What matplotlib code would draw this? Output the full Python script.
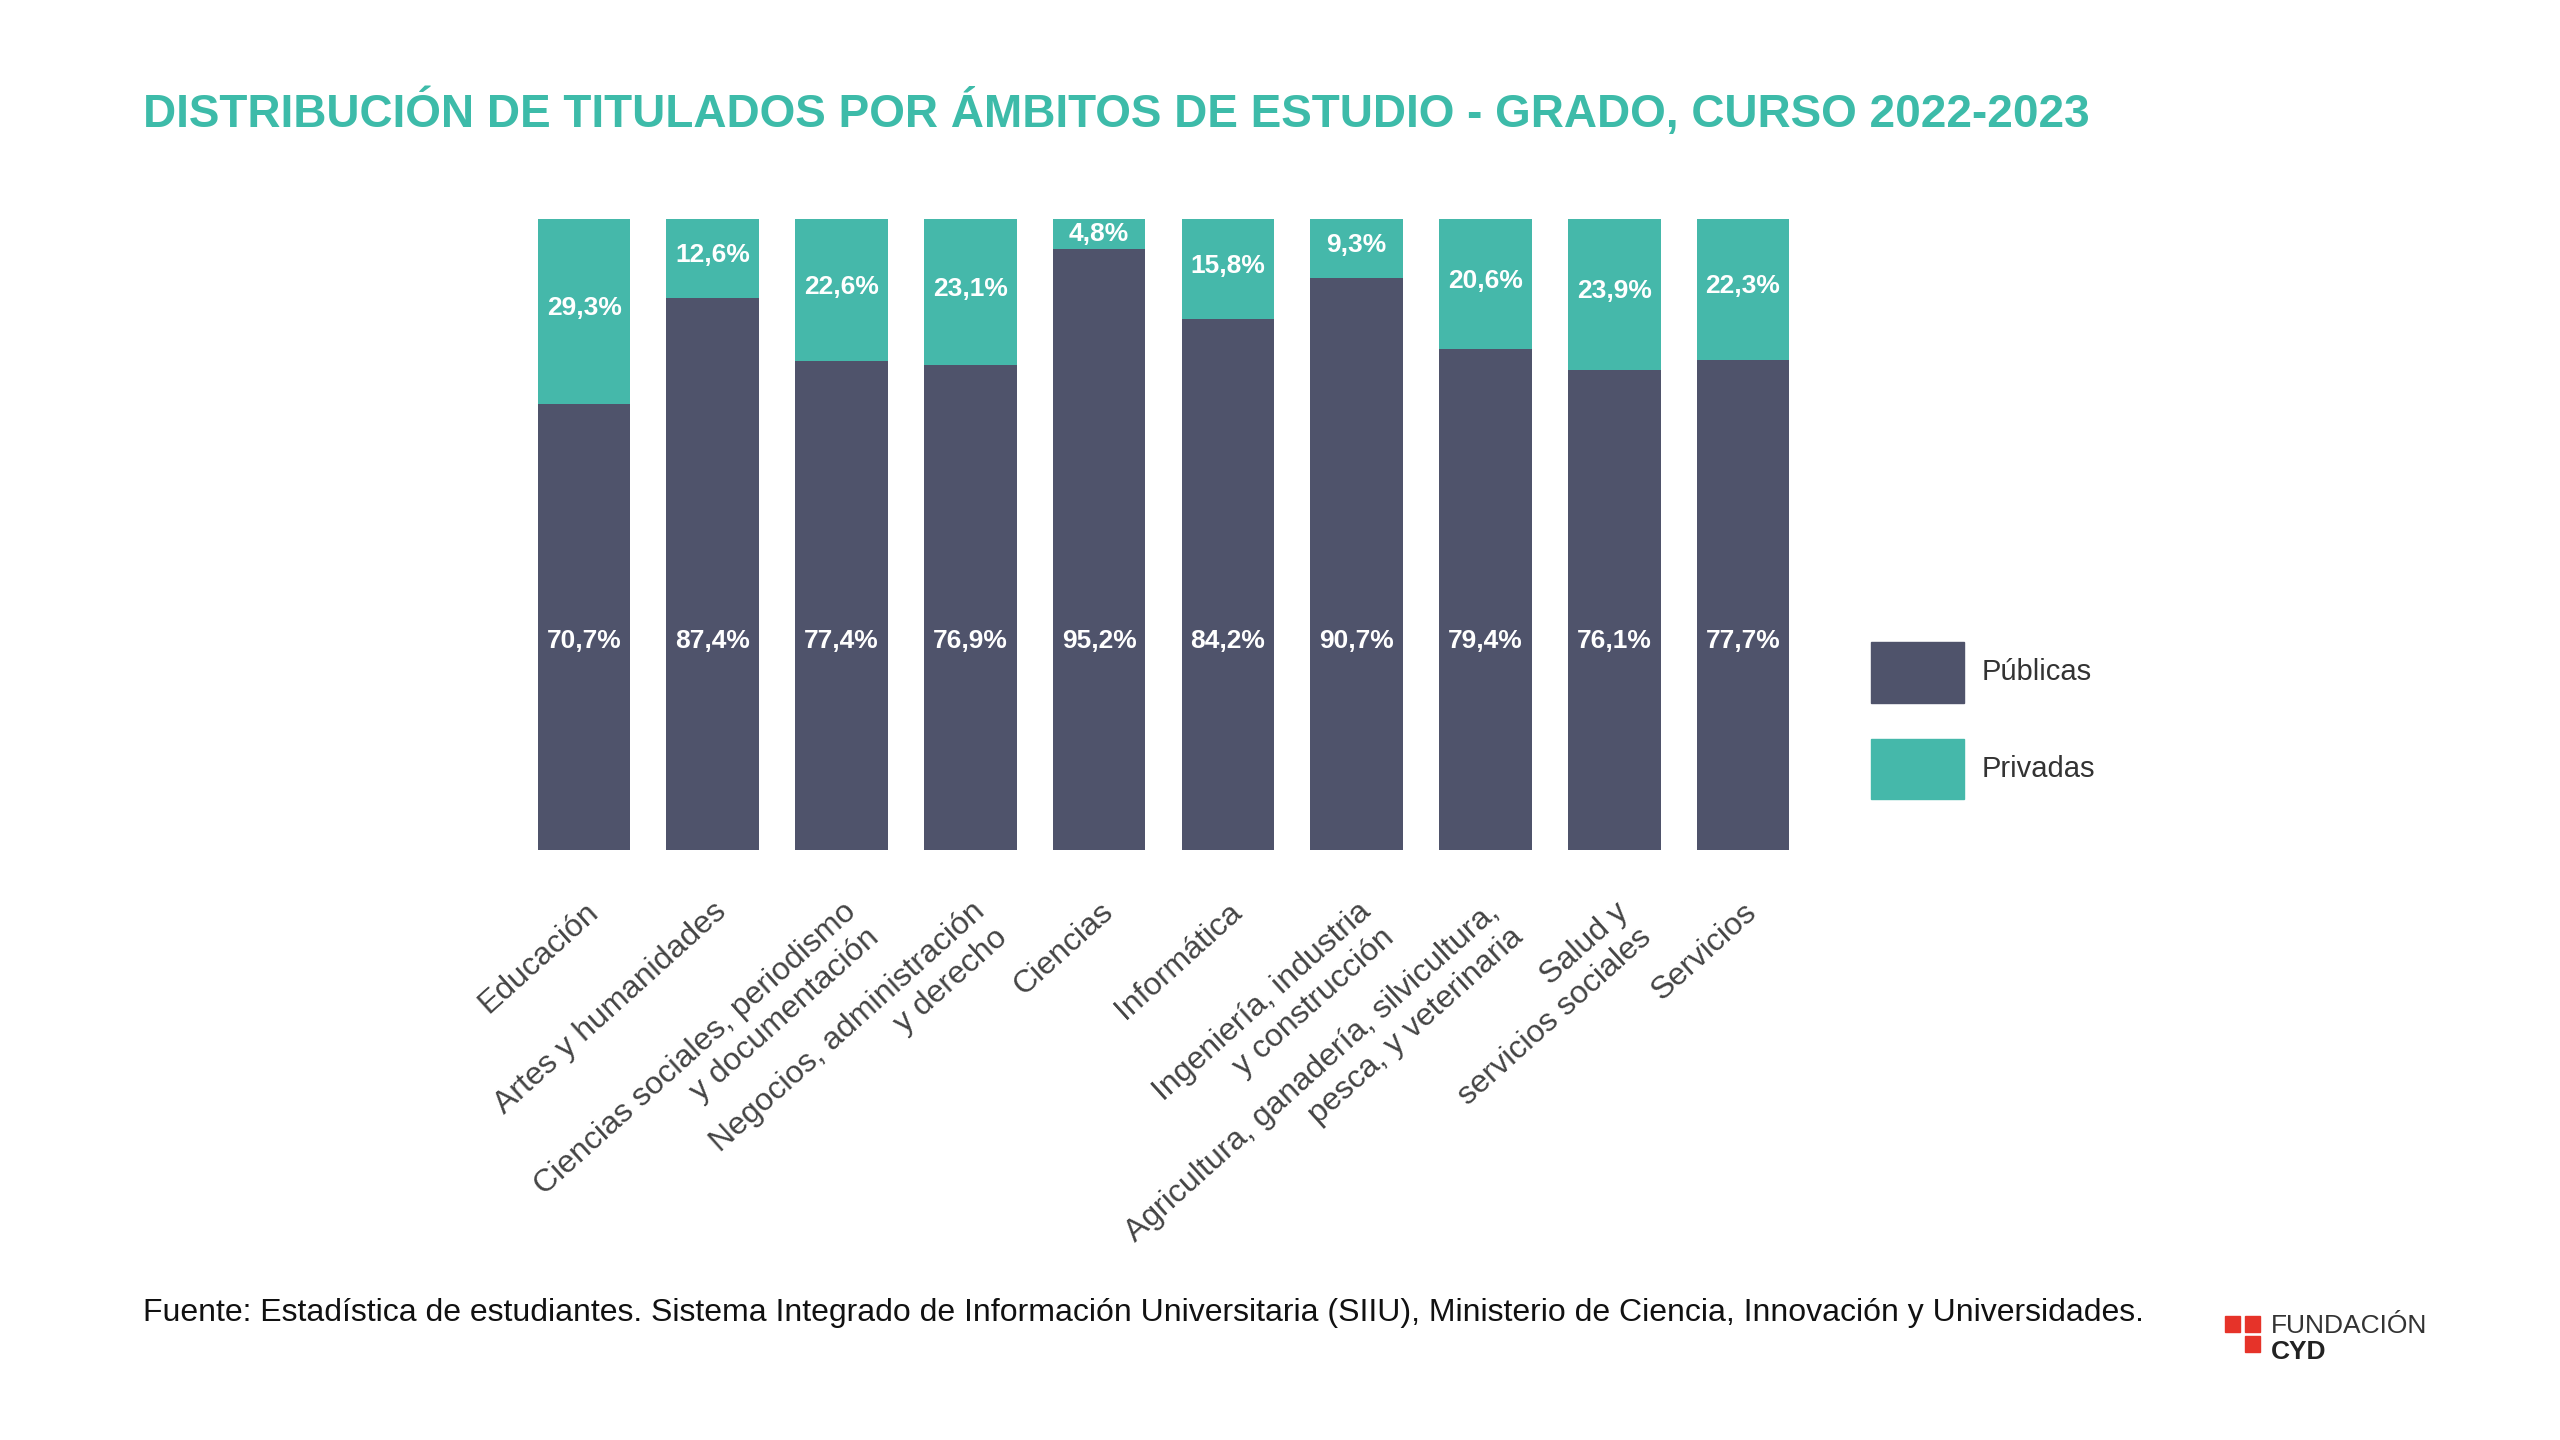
import matplotlib.pyplot as plt
from matplotlib.patches import Rectangle

plt.rcParams['font.family'] = ['Liberation Sans', 'DejaVu Sans']

ambitos = ["Educación", "Artes y humanidades", "Ciencias sociales, periodismo\ny documentación",
           "Negocios, administración\ny derecho", "Ciencias", "Informática",
           "Ingeniería, industria\ny construcción", "Agricultura, ganadería, silvicultura,\npesca, y veterinaria",
           "Salud y\nservicios sociales", "Servicios"]
publicas = [70.7, 87.4, 77.4, 76.9, 95.2, 84.2, 90.7, 79.4, 76.1, 77.7]
privadas = [29.3, 12.6, 22.6, 23.1, 4.8, 15.8, 9.3, 20.6, 23.9, 22.3]

c_pub = "#4f536b"
c_priv = "#45b8aa"

fig = plt.figure(figsize=(25.6, 14.4), dpi=100)
ax = fig.add_axes([0.203, 0.410, 0.503, 0.438])
x = range(len(ambitos))
ax.bar(x, publicas, width=0.72, color=c_pub, label="Públicas")
ax.bar(x, privadas, width=0.72, bottom=publicas, color=c_priv, label="Privadas")
for i, (p, q) in enumerate(zip(publicas, privadas)):
    ax.text(i, 33, f"{p:.1f}%".replace(".", ","), ha="center", va="center",
            color="white", fontsize=19, fontweight="bold")
    ax.text(i, p + q / 2 + (0.5 if q > 6 else 0), f"{q:.1f}%".replace(".", ","), ha="center", va="center",
            color="white", fontsize=19, fontweight="bold")
ax.set_xlim(-0.5, 9.5)
ax.set_ylim(0, 100)
ax.set_yticks([])
ax.set_xticks(list(x))
ax.set_xticklabels(ambitos, rotation=42, ha="right", rotation_mode="anchor",
                   fontsize=23, color="#444444", multialignment="right")
ax.tick_params(axis="x", length=0, pad=34)
for s in ax.spines.values():
    s.set_visible(False)

# leyenda
for k, (lab, col) in enumerate([("Públicas", c_pub), ("Privadas", c_priv)]):
    y0 = 0.512 - k * 0.067
    fig.patches.append(Rectangle((0.731, y0), 0.036, 0.042, transform=fig.transFigure, color=col))
    fig.text(0.774, y0 + 0.021, lab, fontsize=21, color="#333333", va="center")

fig.text(0.056, 0.922, "DISTRIBUCIÓN DE TITULADOS POR ÁMBITOS DE ESTUDIO - GRADO, CURSO 2022-2023",
         fontsize=33, fontweight="bold", color="#3dbba9", va="center")
fig.text(0.056, 0.088, "Fuente: Estadística de estudiantes. Sistema Integrado de Información Universitaria (SIIU), "
         "Ministerio de Ciencia, Innovación y Universidades.", fontsize=23, color="#111111", va="center")

# logo
fig.patches.append(Rectangle((0.869, 0.075), 0.006, 0.011, transform=fig.transFigure, color="#e63329"))
fig.patches.append(Rectangle((0.877, 0.075), 0.006, 0.011, transform=fig.transFigure, color="#e63329"))
fig.patches.append(Rectangle((0.877, 0.061), 0.006, 0.011, transform=fig.transFigure, color="#e63329"))
fig.text(0.887, 0.079, "FUNDACIÓN", fontsize=19, color="#333333", va="center")
fig.text(0.887, 0.061, "CYD", fontsize=19, color="#222222", va="center", fontweight="bold")

fig.savefig("out.png", facecolor="white")
